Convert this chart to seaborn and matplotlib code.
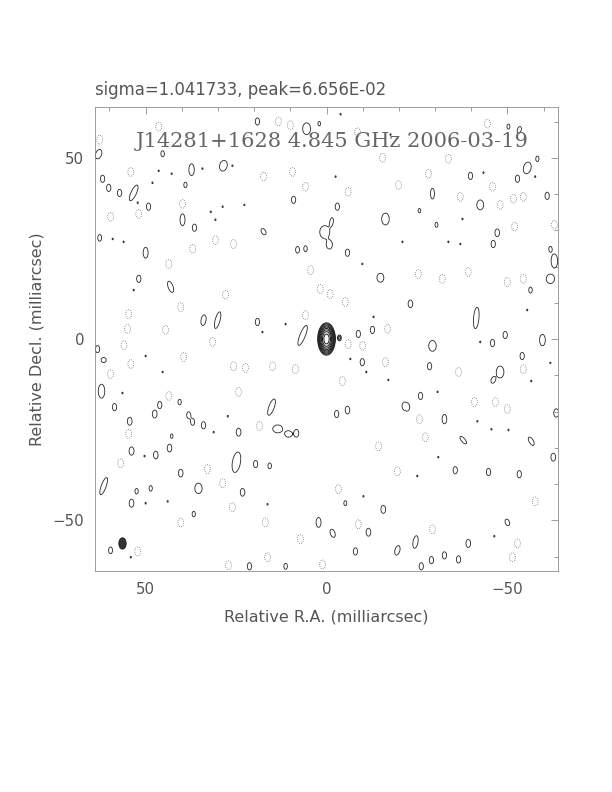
import numpy as np
import matplotlib
matplotlib.use("Agg")
import matplotlib.pyplot as plt
from matplotlib.patches import Ellipse
from matplotlib.ticker import MultipleLocator, FixedLocator
import seaborn as sns


SIGMA_TEXT = "sigma=1.041733, peak=6.656E-02"
MAP_TITLE = "J14281+1628 4.845 GHz 2006-03-19"
X_LABEL = "Relative R.A. (milliarcsec)"
Y_LABEL = "Relative Decl. (milliarcsec)"
TICK_VALUES = [50, 0, -50]
TICK_LABELS = ["50", "0", "\u221250"]

# components: (ra, dec, peak) or (ra, dec, peak, width, height, tilt)
CORE = [(0.0, 0.0, 21.3, 0.98, 1.8, 0), (-3.6, 0.3, 1.6, 0.5, 0.8, 0)]

POSITIVE = [
    (63.0, 51.0, 2.5, 0.6, 1.0, 20), (61.9, 44.2, 2), (60.2, 41.7, 2), (57.2, 40.3, 2),
    (53.3, 40.3, 3, 0.5, 1.6, 25), (49.2, 36.5, 2), (45.3, 51.1, 1.6),
    (37.3, 46.7, 2.5, 0.55, 1.2, 0), (39.0, 42.5, 1.5), (28.5, 47.8, 3, 0.7, 1.0, 15),
    (39.8, 32.9, 2.5, 0.5, 1.2, 0), (36.5, 30.7, 2), (50.0, 23.8, 2.5, 0.5, 1.1, 0),
    (51.9, 16.6, 2), (43.1, 14.4, 2.5, 0.5, 1.2, -20), (34.0, 5.2, 2.5, 0.5, 1.1, 10),
    (30.1, 5.2, 3, 0.45, 1.6, 15), (62.7, 27.9, 1.8),
    (19.1, 60.0, 2), (5.5, 58.0, 2.5, 0.8, 1.2, 0), (2.0, 59.4, 1.3), (9.1, 38.4, 2),
    (-3.0, 36.5, 2), (17.4, 29.6, 2, 0.5, 0.8, -30), (0.5, 29.5, 2.5, 1.0, 1.3, 0),
    (-0.8, 26.0, 2, 0.7, 1.0, 0), (-1.4, 32.3, 2, 0.4, 1.0, 10), (8.0, 24.6, 1.8),
    (5.8, 24.9, 1.6), (-5.8, 23.8, 2), (-16.3, 33.1, 3, 0.7, 1.1, 0),
    (-14.9, 16.9, 2.5, 0.7, 0.9, 0), (19.1, 4.7, 2), (6.6, 1.0, 3, 0.5, 2.0, 22),
    (-8.8, 1.4, 2), (-12.7, 2.5, 2),
    (-53.3, 57.7, 2, 0.45, 0.8, 20), (-50.3, 58.6, 1.4), (-55.5, 47.2, 3, 0.7, 1.1, 15),
    (-58.3, 49.7, 1.5), (-39.8, 45.0, 2), (-52.8, 44.2, 2), (-29.3, 40.1, 2.5, 0.4, 1.1, 0),
    (-42.5, 37.0, 2.5, 0.7, 1.0, 0), (-61.0, 39.5, 2), (-25.7, 35.4, 1.3), (-30.4, 31.5, 1.4),
    (-47.2, 29.3, 2.2), (-46.1, 26.2, 2), (-63.0, 21.5, 3, 0.6, 1.3, 0), (-61.9, 24.8, 1.5),
    (-61.9, 16.6, 2.8, 0.8, 0.9, 0), (-56.4, 13.5, 1.6), (-23.2, 9.7, 2.2),
    (-41.4, 5.8, 3, 0.5, 2.0, 5), (-49.4, 1.1, 2), (-59.7, 0.2, 2),
    (63.3, -2.8, 2), (61.6, -5.8, 2, 0.6, 0.6, 0), (62.2, -14.4, 3, 0.6, 1.3, 0),
    (58.6, -18.8, 2), (46.1, -18.2, 2), (40.6, -17.4, 1.5), (47.5, -20.7, 2.3),
    (54.4, -22.7, 2.3), (38.1, -21.0, 1.8), (37.0, -22.9, 1.8), (34.0, -23.8, 2),
    (24.3, -25.7, 2.3), (42.8, -26.8, 1.3), (53.9, -30.9, 2.5), (47.2, -32.0, 2.2),
    (43.4, -30.1, 2.2), (24.9, -34.0, 3.5, 0.7, 1.8, 10), (40.3, -37.0, 2.2),
    (61.6, -40.6, 3, 0.45, 1.7, 20), (35.4, -41.2, 2.8, 0.7, 1.0, 0), (48.6, -41.2, 1.5),
    (52.5, -42.0, 1.5), (23.2, -42.3, 2.2), (53.9, -45.3, 2.3), (36.7, -48.3, 1.5),
    (59.7, -58.3, 1.8), (21.3, -62.7, 2),
    (-9.9, -6.4, 2), (15.2, -18.8, 3, 0.5, 1.6, 20), (-5.8, -19.6, 2.2), (-2.8, -20.7, 2),
    (13.5, -24.8, 2.5, 1.0, 0.8, 0), (10.5, -26.2, 2.2, 0.8, 0.7, 0), (8.3, -26.0, 2.2),
    (19.6, -34.5, 2), (15.7, -35.0, 1.6), (-21.5, -18.5, 2), (-5.2, -45.3, 1.4),
    (-15.7, -47.0, 2.3), (2.2, -50.6, 2.5, 0.5, 1.0, 0), (-1.7, -53.6, 2.3, 0.5, 0.9, -20),
    (-11.6, -53.3, 2.3), (-8.0, -58.6, 2), (-19.6, -58.3, 2.5, 0.5, 1.0, 15), (11.3, -62.7, 1.6),
    (-29.3, -1.9, 3, 0.7, 1.0, 0), (-45.9, -1.1, 2), (-59.7, -0.8, 2), (-54.1, -4.7, 2),
    (-28.5, -7.5, 2), (-48.0, -9.1, 3, 0.7, 1.1, 0), (-46.1, -11.3, 2, 0.5, 0.8, 20),
    (-26.0, -15.7, 2), (-22.4, -18.8, 2), (-32.6, -22.1, 2.3, 0.5, 1.0, 0), (-63.5, -20.4, 2.5),
    (-37.8, -27.9, 2.3, 0.4, 1.0, -40), (-56.6, -28.2, 2.3, 0.45, 1.0, -30), (-62.7, -32.6, 2.3),
    (-35.6, -36.2, 2), (-44.8, -36.7, 2), (-53.3, -37.3, 2), (-50.0, -50.6, 2, 0.5, 0.8, -20),
    (-24.6, -56.0, 2.5, 0.5, 1.3, 10), (-39.2, -56.4, 2.3), (-29.0, -61.0, 2), (-32.6, -59.7, 2),
    (-36.5, -60.8, 2), (-26.2, -62.7, 2),
]

SPECKS = [
    (34.3, 47.0), (46.4, 46.4), (42.8, 45.6), (48.1, 43.1), (52.2, 37.6), (32.0, 35.1),
    (28.7, 36.5), (30.7, 32.9), (59.1, 27.6), (56.1, 26.8), (22.7, 37.0), (53.3, 13.5),
    (26.0, 47.8), (-2.5, 44.8), (-21.0, 26.8), (-9.9, 20.7), (17.7, 1.9), (11.3, 4.1),
    (-13.0, 6.1), (-17.7, 56.4), (-3.9, 62.0), (-33.7, 26.8), (-37.0, 26.2), (-37.6, 33.1),
    (-43.4, 45.9), (-57.7, 44.8), (-55.5, 8.0), (50.3, -32.3), (50.0, -45.3), (43.9, -44.8),
    (56.4, -14.9), (27.3, -21.3), (31.2, -25.7), (54.1, -60.2), (45.3, -9.1), (50.0, -4.7),
    (-17.1, -11.3), (-11.0, -9.1), (-6.6, -5.5), (16.3, -45.6), (-10.2, -43.4),
    (-30.7, -14.6), (-41.7, -22.7), (-25.1, -37.8), (-46.4, -54.4), (-45.6, -24.9),
    (-50.3, -25.1), (-61.9, -6.6), (-56.6, -11.6), (-42.5, -0.8), (-30.9, -32.6),
]

NEGATIVE = [
    (46.4, 58.6), (62.7, 55.0), (54.1, 46.1), (51.9, 34.5), (59.7, 33.7), (39.8, 37.3),
    (37.0, 24.9), (30.7, 27.3), (25.7, 26.2), (43.6, 20.7), (27.9, 12.2), (40.3, 8.8),
    (54.7, 6.9), (55.0, 2.8), (44.5, 2.5),
    (13.3, 60.0), (10.0, 59.0), (-8.6, 57.0), (-15.5, 50.0), (17.4, 44.8), (9.4, 46.1),
    (5.8, 42.0), (-6.0, 40.6), (-19.9, 42.5), (4.4, 19.0), (1.7, 13.8), (-1.0, 12.4),
    (-5.2, 10.2), (-16.9, 2.8), (5.8, 6.6),
    (-28.2, 45.6), (-37.0, 39.2), (-45.9, 42.0), (-48.0, 37.0), (-51.7, 38.7), (-54.4, 39.2),
    (-44.5, 59.4), (-33.7, 49.7), (-32.0, 16.6), (-39.2, 18.5), (-50.0, 15.7), (-54.4, 16.6),
    (-63.0, 31.5), (-52.0, 31.0), (-25.4, 17.9),
    (56.0, -1.7), (54.1, -6.9), (39.5, -5.0), (59.7, -9.7), (43.6, -15.7), (54.7, -26.2),
    (56.9, -34.3), (32.9, -35.9), (40.3, -50.6), (52.2, -58.6), (24.3, -14.6), (25.7, -7.5),
    (22.4, -8.0), (31.5, -0.8), (27.1, -62.4), (26.0, -46.4), (28.7, -39.8),
    (-6.0, -1.4), (-10.0, -1.9), (14.9, -7.5), (8.6, -8.3), (-16.3, -6.4), (-4.4, -11.6),
    (18.5, -24.0), (-14.4, -29.6), (-19.6, -36.5), (-3.3, -41.4), (16.9, -50.6),
    (-8.8, -51.1), (7.2, -55.2), (16.3, -60.2), (1.1, -62.2),
    (-36.5, -9.1), (-54.4, -8.3), (-40.9, -17.4), (-46.7, -17.4), (-50.0, -19.3),
    (-25.7, -22.1), (-27.3, -27.1), (-57.7, -44.8), (-29.3, -52.5), (-52.8, -56.4),
    (-51.4, -60.2),
]

BEAM_RA, BEAM_DEC = 56.4, -56.4
BEAM_MIN, BEAM_MAJ = 2.0, 3.1

CORE_LEVELS = [1.0 * np.sqrt(2) ** n for n in range(9)]
FIELD = 64


def add_component(img, ra, dec, comp):
    if len(comp) == 3:
        x0, y0, peak = comp
        sx, sy, tilt = 0.5, 0.85, 0
    else:
        x0, y0, peak, sx, sy, tilt = comp
    t = np.radians(tilt)
    u = -(ra - x0)
    v = dec - y0
    a = u * np.cos(t) - v * np.sin(t)
    b = u * np.sin(t) + v * np.cos(t)
    img += peak * np.exp(-(a ** 2 / (2 * sx ** 2) + b ** 2 / (2 * sy ** 2)))


def main() -> None:
    sns.set_style("white")
    plt.rcParams["font.family"] = ["DejaVu Sans"]

    ra = np.linspace(FIELD, -FIELD, 700)
    dec = np.linspace(-FIELD, FIELD, 700)
    RA, DEC = np.meshgrid(ra, dec)

    core = np.zeros_like(RA)
    for comp in CORE:
        add_component(core, RA, DEC, comp)

    noise = np.zeros_like(RA)
    for comp in POSITIVE:
        add_component(noise, RA, DEC, comp)
    for (x0, y0) in SPECKS:
        add_component(noise, RA, DEC, (x0, y0, 1.15, 0.35, 0.5, 0))

    neg = np.zeros_like(RA)
    for (x0, y0) in NEGATIVE:
        add_component(neg, RA, DEC, (x0, y0, 2.5, 0.6, 0.9, 0))

    fig = plt.figure(figsize=(8.5, 11), dpi=72)
    ax = fig.add_axes([95 / 612, 1 - 571 / 792, 463 / 612, 464 / 792])

    ax.contour(RA, DEC, core, levels=CORE_LEVELS, colors="#1e1e1e", linewidths=1.0)
    ax.contour(RA, DEC, noise, levels=[1.0], colors="#2a2a2a", linewidths=0.85)
    ax.contour(RA, DEC, -neg, levels=[-1.0], colors="#666666", linewidths=0.8, linestyles=":")

    ax.add_patch(Ellipse((BEAM_RA, BEAM_DEC), BEAM_MIN, BEAM_MAJ, facecolor="#333333", edgecolor="#222222"))

    ax.set_xlim(FIELD, -FIELD)
    ax.set_ylim(-FIELD, FIELD)
    ax.set_aspect("auto")

    ax.xaxis.set_major_locator(FixedLocator(TICK_VALUES))
    ax.yaxis.set_major_locator(FixedLocator(TICK_VALUES))
    ax.xaxis.set_minor_locator(MultipleLocator(10))
    ax.yaxis.set_minor_locator(MultipleLocator(10))
    ax.set_xticklabels(TICK_LABELS)
    ax.set_yticklabels(TICK_LABELS)
    ax.tick_params(which="both", direction="in", top=True, right=True, color="#888888",
                   labelsize=15, labelcolor="#555555", width=0.8)
    ax.tick_params(which="major", length=7, pad=11)
    ax.tick_params(which="minor", length=4)
    for spine in ax.spines.values():
        spine.set_color("#888888")
        spine.set_linewidth(0.8)

    ax.set_xlabel(X_LABEL, fontsize=16, color="#555555", labelpad=12)
    ax.set_ylabel(Y_LABEL, fontsize=16, color="#555555", labelpad=8)

    ax.text(0.512, 0.925, MAP_TITLE, transform=ax.transAxes, ha="center", va="center",
            fontsize=21, color="#666666", family=["DejaVu Serif"])
    fig.text(95 / 612, 1 - 90 / 792, SIGMA_TEXT, ha="left", va="center",
             fontsize=16.5, color="#555555")

    plt.savefig("out.png", dpi=72)
    plt.close()


if __name__ == "__main__":
    main()
